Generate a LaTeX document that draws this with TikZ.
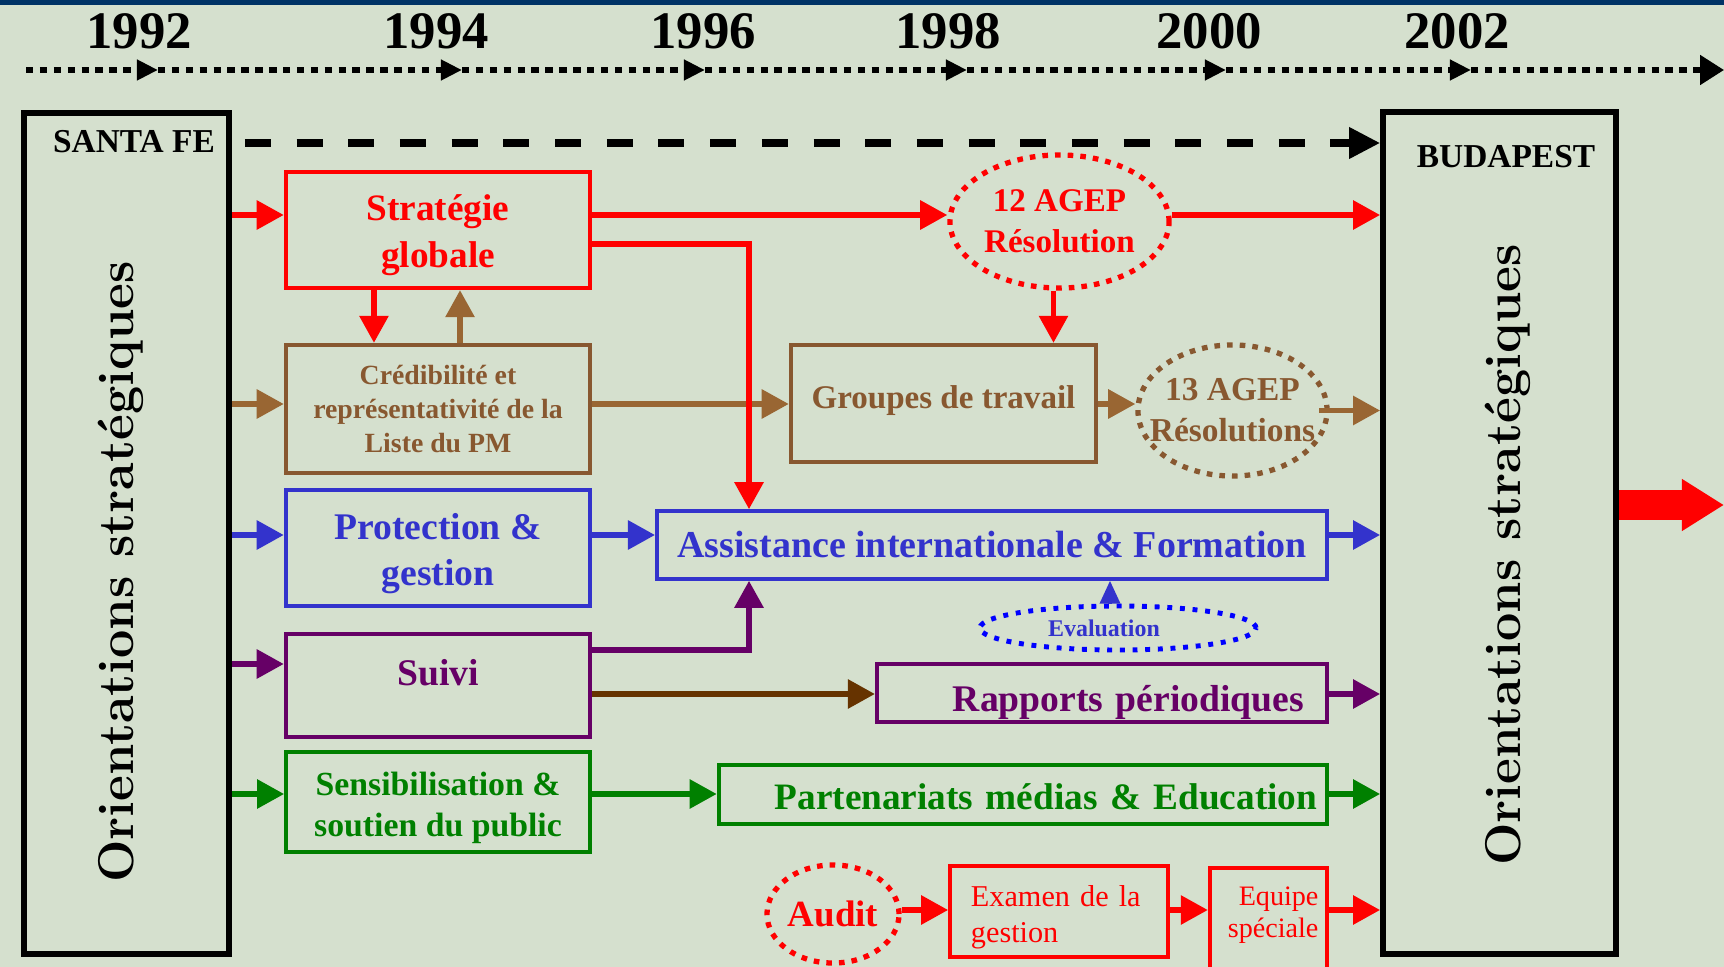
\documentclass[tikz,border=0pt]{standalone}
\usepackage{fontspec}
\setmainfont{Liberation Serif}
\newfontfamily\lmfont{Latin Modern Roman}
\usetikzlibrary{arrows.meta, shapes.geometric}

\definecolor{bgcol}{RGB}{213,224,206}
\definecolor{navy}{RGB}{0,51,102}
\definecolor{pmred}{RGB}{255,0,0}
\definecolor{pmblue}{RGB}{51,51,204}
\definecolor{dotblue}{RGB}{0,0,255}
\definecolor{pmpurple}{RGB}{102,0,102}
\definecolor{pmgreen}{RGB}{0,128,0}
\definecolor{pmbrown}{RGB}{136,88,48}
\definecolor{arrbrown}{RGB}{153,102,51}
\definecolor{darkbrown}{RGB}{102,51,0}

\newcommand{\pmfont}[2]{\bfseries\fontsize{#1}{#2}\selectfont}
\newcommand{\pmthin}[2]{\fontsize{#1}{#2}\selectfont}
\newcommand{\lift}[1]{\rule{0pt}{#1}}

\tikzset{
  pmbox/.style={draw=#1, text=#1, line width=1.2pt, inner sep=0pt, align=center},
  pmoval/.style={ellipse, draw=#1, text=#1, line width=1.5pt, dash pattern=on 1.6pt off 2pt, inner sep=0pt, align=center},
  flow/.style={draw=#1, line width=1.6pt, -{Triangle[length=7.7pt,width=8pt]}},
  bigbox/.style={draw=black, line width=1.6pt, inner sep=0pt},
  timeline/.style={line width=1.5pt, dash pattern=on 2.1pt off 1.85pt, -{Triangle[length=6pt,width=5.6pt]}},
  year/.style={font=\pmfont{15}{18}, anchor=base},
  vtext/.style={rotate=90, anchor=base, font=\lmfont\bfseries\fontsize{14.3}{17}\selectfont},
}

\begin{document}
\begin{tikzpicture}[x=0.01cm, y=-0.01cm]
\useasboundingbox (0,0) rectangle (1724,967);
\clip (0,0) rectangle (1724,967);
\fill[bgcol] (0,0) rectangle (1724,967);
\fill[navy] (0,0) rectangle (1724,5);

% time axis
\foreach \yr/\x in {1992/139, 1994/436, 1996/703, 1998/948, 2000/1209, 2002/1457}
  \node[year] (y\yr) at (\x,49) {\yr};
\foreach \a/\b in {26/158, 158/462, 462/705, 705/967, 967/1226, 1226/1471}
  \draw[timeline] (\a,70) -- (\b,70);
\draw[timeline, -{Triangle[length=6.8pt,width=8.2pt]}] (1471,70) -- (1724,70);

% row levels
\coordinate (rtop) at (0,143);
\coordinate (r1) at (0,215);
\coordinate (r1b) at (0,244);
\coordinate (r2) at (0,404);
\coordinate (r3) at (0,535);
\coordinate (r4) at (0,664);
\coordinate (r4b) at (0,650);
\coordinate (r4c) at (0,694);
\coordinate (r5) at (0,794);
\coordinate (r6) at (0,910);
\coordinate (drop) at (749,0);
\coordinate (bigrow) at (0,505);
\coordinate (bigend) at (1724,505);

% conferences
\node[bigbox, minimum width=2.05cm, minimum height=8.41cm] (santafe) at (126.5,533.5) {};
\node[bigbox, minimum width=2.33cm, minimum height=8.42cm] (budapest) at (1499.5,533) {};
\node[font=\pmfont{9.5}{11}, anchor=base] (santalbl) at (134,153) {SANTA FE};
\node[font=\pmfont{9.5}{11}, anchor=base] (budalbl) at (1506,168) {BUDAPEST};
\node[vtext] (orientl) at (133,572) {Orientations stratégiques};
\node[vtext] (orientr) at (1520,555) {Orientations stratégiques};

% first column
\node[pmbox=pmred, minimum width=3.04cm, minimum height=1.16cm, font=\pmfont{10.6}{13.4}] (strat) at (438,230) {\lift{10.5pt}Stratégie\\globale};
\node[pmbox=pmbrown, minimum width=3.04cm, minimum height=1.28cm, font=\pmfont{7.9}{9.8}] (cred) at (438,409) {Crédibilité et\\représentativité de la\\Liste du PM};
\node[pmbox=pmblue, minimum width=3.04cm, minimum height=1.16cm, font=\pmfont{10.7}{13}] (prot) at (438,548) {\lift{10.6pt}Protection \&\\gestion};
\node[pmbox=pmpurple, minimum width=3.04cm, minimum height=1.03cm, text height=2mm, text depth=2mm, font=\pmfont{10.7}{13}] (suivi) at (438,685.5) {Suivi};
\node[pmbox=pmgreen, line width=1pt, minimum width=3.04cm, minimum height=1cm, font=\pmfont{9.6}{11.7}] (sens) at (438,802) {\lift{9.9pt}Sensibilisation \&\\soutien du public};

% results
\node[pmbox=pmbrown, minimum width=3.05cm, minimum height=1.17cm, text height=7pt, text depth=4.3pt, font=\pmfont{9.4}{11}] (groupes) at (943.5,403.5) {Groupes de travail};
\node[pmoval=pmred, minimum width=2.19cm, minimum height=1.33cm, font=\pmfont{9.4}{11.7}] (agep12) at (1059.5,221.5) {12 AGEP\\Résolution};
\node[pmoval=pmbrown, inner xsep=-4.5pt, minimum width=1.89cm, minimum height=1.31cm, font=\pmfont{9.5}{11.7}] (agep13) at (1232.5,410.5) {13 AGEP\\Résolutions};
\node[pmbox=pmblue, line width=1pt, minimum width=6.7cm, minimum height=0.68cm, font=\pmfont{10.8}{13}] (assist) at (992,545) {Assistance internationale \& Formation};
\node[pmoval=dotblue, text=pmblue, line width=1.4pt, dash pattern=on 1.4pt off 2.2pt, minimum width=2.76cm, minimum height=0.44cm, font=\pmfont{6.8}{8}] (eval) at (1118,628) {Evaluation\hspace*{0.28cm}};
\node[pmbox=pmpurple, line width=1.1pt, minimum width=4.5cm, minimum height=0.58cm, inner xsep=0.23cm, text width=4.04cm, align=right, text height=10.8pt, text depth=0pt, font=\pmfont{10.7}{13}] (rapports) at (1102,693) {Rapports périodiques};
\node[pmbox=pmgreen, minimum width=6.08cm, minimum height=0.59cm, inner xsep=0.1cm, text width=5.88cm, align=right, text height=8.4pt, text depth=0pt, font=\pmfont{10.6}{13}] (partner) at (1023,794.5) {Partenariats médias \& Education};
\node[pmoval=pmred, minimum width=1.32cm, minimum height=0.98cm, font=\pmfont{10.5}{12}] (audit) at (833,914) {Audit};
\node[pmbox=pmred, line width=1pt, minimum width=2.18cm, minimum height=0.91cm, inner xsep=0.21cm, text width=1.76cm, align=left, font=\pmthin{8.6}{10.2}] (examen) at (1059,911.5) {\lift{9.2pt}Examen de la\\gestion};
\node[pmbox=pmred, minimum width=1.17cm, minimum height=1.6cm, anchor=north,
  label={[anchor=north east, align=right, text=pmred, inner sep=0pt, xshift=-0.1cm, yshift=-0.2cm, font=\pmthin{8}{9.1}]north east:Equipe\\spéciale}] (equipe) at (1268.5,866) {};

% into the first column
\draw[flow=pmred] (santafe.east |- r1) -- (strat.west |- r1);
\draw[flow=arrbrown] (santafe.east |- r2) -- (cred.west |- r2);
\draw[flow=pmblue] (santafe.east |- r3) -- (prot.west |- r3);
\draw[flow=pmpurple] (santafe.east |- r4) -- (suivi.west |- r4);
\draw[flow=pmgreen] (santafe.east |- r5) -- (sens.west |- r5);
\draw[draw=black, line width=2pt, dash pattern=on 7.4pt off 7.3pt, -{Triangle[length=8.8pt,width=8.5pt]}, shorten <=3.7pt] (santafe.east |- rtop) -- (budapest.west |- rtop);

% between the boxes
\draw[flow=arrbrown] (cred.east |- r2) -- (groupes.west |- r2);
\draw[flow=arrbrown] (groupes.east |- r2) -- (agep13.west |- r2);
\draw[flow=arrbrown, shorten <=-3pt] (agep13.east) -- (budapest.west |- agep13.east);
\draw[flow=pmred] ([xshift=-0.64cm]strat.south) -- ([xshift=-0.64cm]cred.north);
\draw[flow=arrbrown] ([xshift=0.22cm]cred.north) -- ([xshift=0.22cm]strat.south);
\draw[flow=pmred] (strat.east |- r1) -- (agep12.west |- r1);
\draw[flow=pmred] (agep12.east |- r1) -- (budapest.west |- r1);
\draw[flow=pmred] ([xshift=-0.06cm]agep12.south) -- ([xshift=-0.06cm]agep12.south |- groupes.north);
\draw[flow=pmred] (strat.east |- r1b) -| (assist.north -| drop);
\draw[flow=pmblue] (prot.east |- r3) -- (assist.west |- r3);
\draw[flow=pmblue] (assist.east |- r3) -- (budapest.west |- r3);
\draw[draw=pmblue, line width=1pt, -{Triangle[length=6.5pt,width=5.7pt]}] ([xshift=-0.08cm]eval.north) -- ([xshift=-0.08cm]eval.north |- assist.south);
\draw[flow=pmpurple] (suivi.east |- r4b) -| (assist.south -| drop);
\draw[flow=darkbrown] (suivi.east |- r4c) -- (rapports.west |- r4c);
\draw[flow=pmpurple] (rapports.east |- r4c) -- (budapest.west |- r4c);
\draw[flow=pmgreen] (sens.east |- r5) -- (partner.west |- r5);
\draw[flow=pmgreen] (partner.east |- r5) -- (budapest.west |- r5);
\draw[flow=pmred] (audit.east |- r6) -- (examen.west |- r6);
\draw[flow=pmred] (examen.east |- r6) -- (equipe.west |- r6);
\draw[flow=pmred] (equipe.east |- r6) -- (budapest.west |- r6);
\draw[draw=pmred, line width=8.8pt, -{Triangle[length=12pt,width=14pt]}] (budapest.east |- bigrow) -- (bigend);
\end{tikzpicture}
\end{document}
